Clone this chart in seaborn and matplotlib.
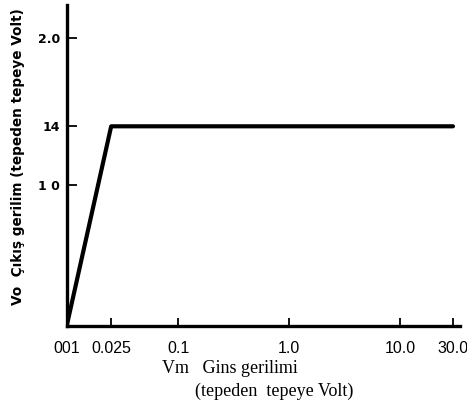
import numpy as np
import pandas as pd
import matplotlib
matplotlib.use('Agg')
import matplotlib.pyplot as plt
import seaborn as sns

# Values
vm = [0.01, 0.025, 30.0]        # input voltage (peak to peak)
vo = [0.06, 1.4, 1.4]           # output voltage (peak to peak)

x_ticks = [0.01, 0.025, 0.1, 1.0, 10.0, 30.0]
x_labels = ['001', '0.025', '0.1', '1.0', '10.0', '30.0']
y_ticks = [1.0, 1.4, 2.0]
y_labels = ['1 0', '14', '2.0']

df = pd.DataFrame({'vm': vm, 'vo': vo})

sns.set_style('white')
plt.rcParams['font.family'] = ['Liberation Sans', 'DejaVu Sans']

W, H = 467, 403
fig = plt.figure(figsize=(W / 100, H / 100), dpi=100)
ax = fig.add_axes([67 / W, 1 - 326 / H, 393 / W, 321 / H])

sns.lineplot(data=df, x='vm', y='vo', color='black', linewidth=3, ax=ax)

ax.set_xscale('log')
ax.set_xlim(0.01, 34.7)
ax.set_ylim(0.05, 2.22)
ax.minorticks_off()

ax.set_xticks(x_ticks, x_labels)
ax.set_yticks(y_ticks, y_labels)

# seaborn's white style hides tick marks, turn them back on
ax.tick_params(axis='x', bottom=True, direction='in', length=6, width=1.3, pad=11,
               colors='black', labelsize=11.5)
ax.tick_params(axis='y', left=True, direction='in', length=7, width=1.3, pad=5,
               colors='black', labelsize=9)
for t in ax.get_xticklabels():
    t.set_fontfamily('Liberation Sans')
for t in ax.get_yticklabels():
    t.set_fontfamily('DejaVu Sans')
    t.set_fontweight('bold')

for side in ['top', 'right']:
    ax.spines[side].set_visible(False)
for side in ['left', 'bottom']:
    ax.spines[side].set_linewidth(2.4)
    ax.spines[side].set_color('black')

ax.set_xlabel(None)
ax.set_ylabel(None)

# axis titles
fig.text(18 / W, 1 - 157 / H, 'Vo  Çıkış gerilim (tepeden tepeye Volt)',
         rotation=90, ha='center', va='center', fontsize=9.8,
         fontweight='bold', family='DejaVu Sans', color='black')
fig.text(162 / W, 1 - 373 / H, 'Vm   Gins gerilimi', ha='left', va='baseline',
         fontsize=13, family='Liberation Serif', color='black')
fig.text(195 / W, 1 - 396 / H, '(tepeden  tepeye Volt)', ha='left', va='baseline',
         fontsize=13, family='Liberation Serif', color='black')

fig.savefig('out.png', dpi=100)
